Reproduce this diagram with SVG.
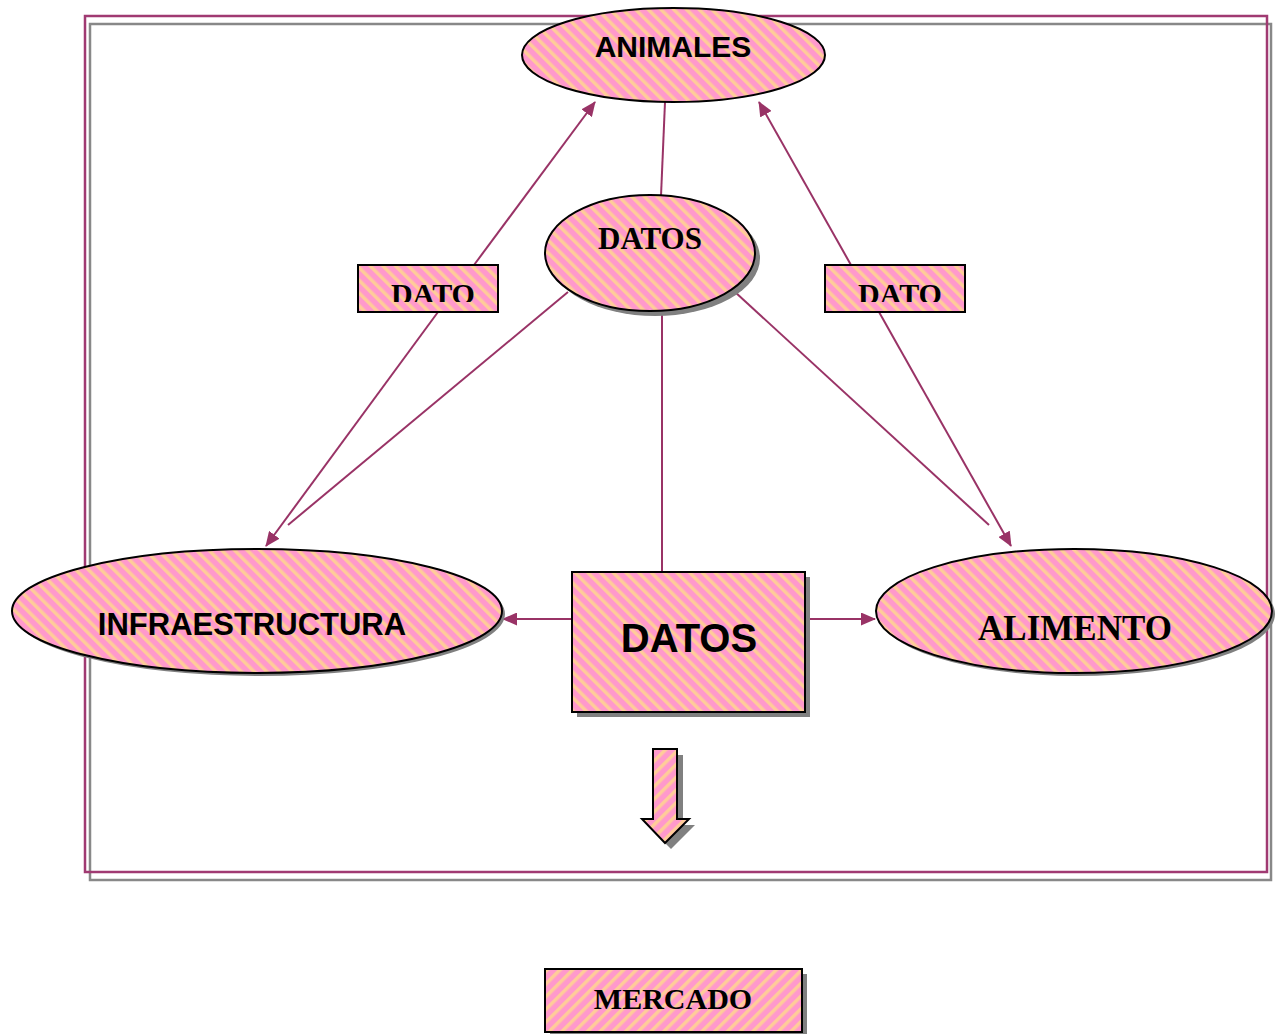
<svg xmlns="http://www.w3.org/2000/svg" width="1280" height="1034" viewBox="0 0 1280 1034">
<defs>
<pattern id="stripeA" width="9" height="9" patternUnits="userSpaceOnUse" patternTransform="rotate(-45)">
<rect width="9" height="9" fill="#ff99cc"/>
<rect width="3.5" height="9" fill="#ffcc99"/>
</pattern>
<pattern id="stripeB" width="9" height="9" patternUnits="userSpaceOnUse" patternTransform="rotate(45)">
<rect width="9" height="9" fill="#ff99cc"/>
<rect width="3.5" height="9" fill="#ffcc99"/>
</pattern>
<marker id="arr" viewBox="0 0 15 13" refX="14" refY="6.5" markerWidth="15" markerHeight="13" markerUnits="userSpaceOnUse" orient="auto">
<path d="M0,0 L15,6.5 L0,13 Z" fill="#993366"/>
</marker>
<clipPath id="clipL"><rect x="358" y="265" width="140" height="37"/></clipPath>
<clipPath id="clipR"><rect x="825" y="265" width="140" height="37"/></clipPath>
</defs>
<style>
.sh{fill:#808080}
.fa{fill:url(#stripeA);stroke:#000;stroke-width:2}
.fb{fill:url(#stripeB);stroke:#000;stroke-width:2}
.c{stroke:#993366;stroke-width:2;fill:none}
.ar{font-family:"Liberation Sans",Arial,sans-serif;font-weight:bold;fill:#000;text-anchor:middle}
.tr{font-family:"Liberation Serif","Times New Roman",serif;font-weight:bold;fill:#000;text-anchor:middle}
</style>
<rect width="1280" height="1034" fill="#fff"/>
<g id="frame">
<rect x="90" y="24" width="1181" height="856" fill="none" stroke="#888" stroke-width="2.5"/>
<rect x="85" y="16" width="1182" height="856" fill="none" stroke="#a03a72" stroke-width="2.5"/>
</g>
<g id="connectors">
<line class="c" x1="665" y1="102" x2="661" y2="196"/>
<line class="c" x1="662" y1="312" x2="662" y2="572"/>
<line class="c" x1="474" y1="265" x2="595" y2="102" marker-end="url(#arr)"/>
<line class="c" x1="438" y1="312" x2="266" y2="546" marker-end="url(#arr)"/>
<line class="c" x1="568" y1="292" x2="288" y2="525"/>
<line class="c" x1="735" y1="292" x2="989" y2="525"/>
<line class="c" x1="851" y1="265" x2="759" y2="102" marker-end="url(#arr)"/>
<line class="c" x1="879" y1="312" x2="1011" y2="546" marker-end="url(#arr)"/>
<line class="c" x1="572" y1="619" x2="503" y2="619" marker-end="url(#arr)"/>
<line class="c" x1="805" y1="619" x2="875" y2="619" marker-end="url(#arr)"/>
</g>
<g id="animales">
<ellipse class="fa" cx="673.5" cy="55" rx="151.5" ry="47"/>
<text class="ar" x="673" y="57" font-size="30">ANIMALES</text>
</g>
<g id="datos-ellipse">
<ellipse class="sh" cx="655" cy="258" rx="105" ry="58"/>
<ellipse class="fa" cx="650" cy="253" rx="105" ry="58"/>
<text class="tr" x="650" y="249" font-size="31">DATOS</text>
</g>
<g id="dato-left">
<rect class="fa" x="358" y="265" width="140" height="47"/>
<text class="tr" x="433" y="304" font-size="30" clip-path="url(#clipL)">DATO</text>
</g>
<g id="dato-right">
<rect class="fa" x="825" y="265" width="140" height="47"/>
<text class="tr" x="900" y="304" font-size="30" clip-path="url(#clipR)">DATO</text>
</g>
<g id="infraestructura">
<ellipse class="sh" cx="260" cy="614" rx="245" ry="62"/>
<ellipse class="fa" cx="257" cy="611" rx="245" ry="62"/>
<text class="ar" x="252" y="635" font-size="31">INFRAESTRUCTURA</text>
</g>
<g id="alimento">
<ellipse class="sh" cx="1077" cy="614" rx="198" ry="62"/>
<ellipse class="fa" cx="1074" cy="611" rx="198" ry="62"/>
<text class="tr" x="1075" y="640" font-size="35">ALIMENTO</text>
</g>
<g id="datos-box">
<rect class="sh" x="577" y="577" width="233" height="140"/>
<rect class="fa" x="572" y="572" width="233" height="140"/>
<text class="ar" x="689" y="652" font-size="40">DATOS</text>
</g>
<g id="down-arrow">
<path class="sh" d="M659,755 L683,755 L683,825 L695,825 L671,849 L647,825 L659,825 Z"/>
<path class="fb" d="M653,749 L677,749 L677,819 L689,819 L665,843 L642,819 L653,819 Z"/>
</g>
<g id="mercado">
<rect class="sh" x="550" y="974" width="257" height="63"/>
<rect class="fb" x="545" y="969" width="257" height="63"/>
<text class="tr" x="673" y="1009" font-size="30">MERCADO</text>
</g>
</svg>
